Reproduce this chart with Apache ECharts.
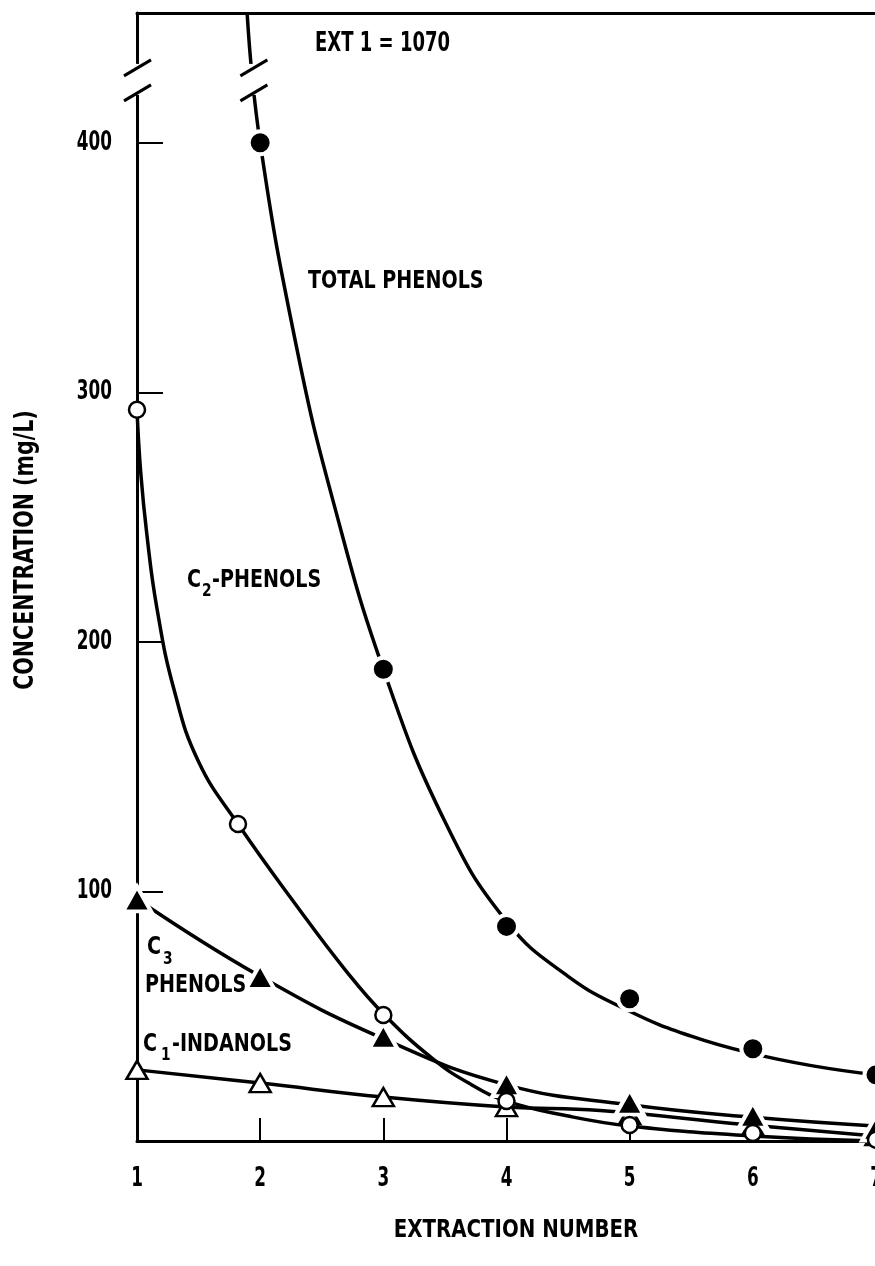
<!DOCTYPE html>
<html>
<head>
<meta charset="utf-8">
<script src="https://cdn.jsdelivr.net/npm/echarts@6/dist/echarts.min.js"></script>
<style>
  html, body { margin: 0; padding: 0; background: #fff; }
  #chart { width: 875px; height: 1266px; }
</style>
</head>
<body>
<div id="chart"></div>
<script>
// Phenol concentrations in successive extractions (mg/L)
const FONT = "'Liberation Sans Narrow', 'DejaVu Sans Condensed', 'Noto Sans', sans-serif";

const extraction = [1, 2, 3, 4, 5, 6, 7];
const xTickLabels = ['1', '2', '3', '4', '5', '6', '7'];
const yTickValues = [100, 200, 300, 400];
const yTickLabels = ['100', '200', '300', '400'];

// measured points
const totalPhenols = [1070, 400, 189, 86, 57, 37, 26.5];
const c2X = [1, 1.82, 3, 4, 5, 6, 7];
const c2Phenols = [293, 127, 50.5, 16, 6.4, 3.2, 0.5];
const c3Phenols = [97, 66, 42, 23, 15.6, 10.4, 5.2];
const c1Indanols = [28.5, 23.2, 17.6, 13.6, 10.4, 6, 2];

// hand-drawn trend curves [extraction, mg/L]
const totalCurve = [[1.894, 452], [2, 400], [2.3, 317], [2.6, 255], [3, 189], [3.5, 128],
  [4, 88], [4.5, 66], [5, 52], [5.5, 42], [6, 35], [6.5, 30], [7, 26.5]];
const c2Curve = [[1, 293], [1.03, 268], [1.08, 243], [1.16, 214], [1.3, 181], [1.5, 152],
  [1.82, 127], [2.3, 94], [2.7, 68], [3, 51], [3.4, 33], [3.7, 23], [4, 16], [4.5, 10],
  [5, 6], [6, 2], [7, 0]];
const c3Curve = [[1, 97], [2, 66], [3, 41], [4, 22.5], [5, 14.5], [6, 9.5], [7, 6]];
const c1Curve = [[1, 28.5], [2, 23.2], [3, 17.6], [4, 13.6], [4.76, 12.2], [5.93, 6.6], [7, 2]];

// y-range hidden by the axis break, and where the break is drawn
const breakValues = [420, 430];
const breakSites = [1, 1.945];

const BLACK = '#000';
const chart = echarts.init(document.getElementById('chart'), null, { renderer: 'canvas' });

const pairs = (xs, ys) => xs.map((x, i) => [x, ys[i]]);
const lineSeries = (name, data) => ({
  name, type: 'line', data, smooth: 0.45, symbol: 'none', clip: false, z: 2,
  lineStyle: { color: BLACK, width: 3.5 }
});

chart.setOption({
  animation: false,
  backgroundColor: '#fff',
  grid: { left: 137, top: 13, width: 739, bottom: 125, outerBoundsMode: 'none', containLabel: false },
  xAxis: [{
    type: 'value', min: 1, max: 7, interval: 1, position: 'bottom',
    axisLine: { lineStyle: { color: BLACK, width: 3 } },
    axisTick: { inside: true, length: 23, lineStyle: { color: BLACK, width: 2 } },
    axisLabel: { show: false },
    splitLine: { show: false }
  }, {
    type: 'value', min: 1, max: 7, position: 'top',
    axisLine: { lineStyle: { color: BLACK, width: 3 } },
    axisTick: { show: false }, axisLabel: { show: false }, splitLine: { show: false }
  }],
  yAxis: {
    type: 'value', min: 0, max: 452, interval: 100,
    axisLine: { show: true, lineStyle: { color: BLACK, width: 3 } },
    axisTick: { inside: true, length: 26, lineStyle: { color: BLACK, width: 2 } },
    axisLabel: { show: false },
    splitLine: { show: false }
  },
  series: [
    lineSeries('Total phenols fit', totalCurve),
    lineSeries('C2-phenols fit', c2Curve),
    lineSeries('C3 phenols fit', c3Curve),
    lineSeries('C1-indanols fit', c1Curve),
    {
      name: 'C1-indanols', type: 'scatter', data: pairs(extraction, c1Indanols), clip: false, z: 4,
      symbol: 'triangle', symbolSize: [21, 18],
      itemStyle: { color: '#fff', borderColor: BLACK, borderWidth: 2.5, opacity: 1 }
    },
    {
      name: 'C3 phenols', type: 'scatter', data: pairs(extraction, c3Phenols), clip: false, z: 5,
      symbol: 'triangle', symbolSize: [28, 25],
      itemStyle: { color: BLACK, borderColor: '#fff', borderWidth: 4, opacity: 1 }
    },
    {
      name: 'C2-phenols', type: 'scatter', data: pairs(c2X, c2Phenols), clip: false, z: 6,
      symbol: 'circle', symbolSize: 16,
      itemStyle: { color: '#fff', borderColor: BLACK, borderWidth: 2.5, opacity: 1 }
    },
    {
      name: 'Total phenols', type: 'scatter', data: pairs(extraction, totalPhenols), clip: false, z: 7,
      symbol: 'circle', symbolSize: 23,
      itemStyle: { color: BLACK, borderColor: '#fff', borderWidth: 4, opacity: 1 }
    }
  ]
});

// condensed bold lettering (scaled horizontally)
const txt = (text, x, y, size, sx, extra) => ({
  type: 'text', x, y, z: 50, scaleX: sx,
  style: Object.assign({ text, fill: BLACK, fontFamily: FONT, fontWeight: 'bold', fontSize: size,
    textAlign: 'left', textVerticalAlign: 'middle' }, extra || {})
});

const toPx = p => chart.convertToPixel({ xAxisIndex: 0, yAxisIndex: 0 }, p);
const graphics = [];

// axis breaks: blank out the gap, then two slashes
breakSites.forEach(x => {
  const lo = toPx([x, breakValues[0]]);
  const hi = toPx([x, breakValues[1]]);
  graphics.push({
    type: 'rect', z: 40,
    shape: { x: lo[0] - 9, y: hi[1] - 4, width: 18, height: lo[1] - hi[1] + 6 },
    style: { fill: '#fff' }
  });
  [lo, hi].forEach(p => graphics.push({
    type: 'line', z: 41,
    shape: { x1: p[0] - 13, y1: p[1] + 8, x2: p[0] + 14, y2: p[1] - 8 },
    style: { stroke: BLACK, lineWidth: 3 }
  }));
});

// tick labels, placed through the axis scales
extraction.forEach((v, i) => {
  const p = toPx([v, 0]);
  graphics.push(txt(xTickLabels[i], p[0], p[1] + 38, 26, 0.72, { textAlign: 'center' }));
});
yTickValues.forEach((v, i) => {
  const p = toPx([1, v]);
  graphics.push(txt(yTickLabels[i], p[0] - 25, p[1], 26, 0.72, { textAlign: 'right' }));
});

graphics.push(
  txt('EXT ' + extraction[0] + ' = ' + totalPhenols[0], 315, 44, 26, 0.77),
  txt('TOTAL PHENOLS', 308, 281, 25, 0.85),
  txt('C', 187, 580, 25, 0.85), txt('2', 202, 591, 18, 0.85), txt('-PHENOLS', 212, 580, 25, 0.85),
  txt('C', 147, 947, 25, 0.85), txt('3', 163, 959, 18, 0.85), txt('PHENOLS', 145, 985, 25, 0.85),
  txt('C', 143, 1044, 25, 0.85), txt('1', 161, 1055, 18, 0.85), txt('-INDANOLS', 172, 1044, 25, 0.85)
);
const yTitle = txt('CONCENTRATION (mg/L)', 26, 550, 26, 0.88, { textAlign: 'center' });
yTitle.rotation = Math.PI / 2;
graphics.push(yTitle, txt('EXTRACTION NUMBER', 516, 1230, 25, 0.88, { textAlign: 'center' }));

chart.setOption({ graphic: graphics });
</script>
</body>
</html>
